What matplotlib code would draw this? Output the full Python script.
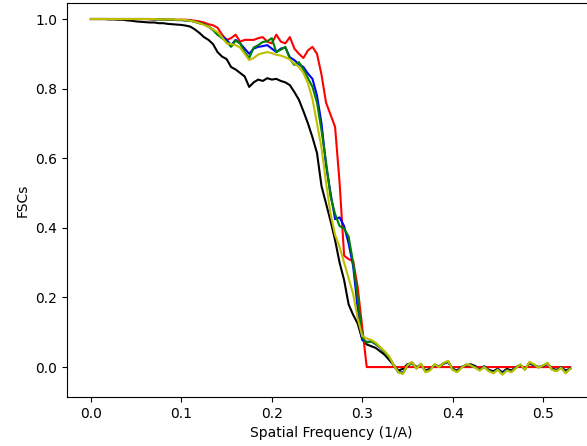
import numpy as np
import matplotlib
matplotlib.use('Agg')
import matplotlib.pyplot as plt

# spatial frequency grid (1/A), 0.005 steps from 0 to 0.53
freq = np.round(np.arange(107) * 0.005, 3)

fsc_black = [
    1.000, 1.000, 1.000, 1.000, 0.999, 0.999, 0.998, 0.998, 0.996, 0.995,
    0.993, 0.992, 0.991, 0.990, 0.990, 0.988, 0.988, 0.986, 0.985, 0.984,
    0.983, 0.981, 0.978, 0.970, 0.960, 0.948, 0.940, 0.928, 0.905, 0.892,
    0.885, 0.862, 0.855, 0.845, 0.835, 0.805, 0.818, 0.826, 0.822, 0.830,
    0.826, 0.828, 0.822, 0.818, 0.810, 0.790, 0.768, 0.735, 0.700, 0.660,
    0.615, 0.520, 0.470, 0.420, 0.365, 0.300, 0.250, 0.180, 0.150, 0.125,
    0.080, 0.065, 0.060, 0.055, 0.045, 0.035, 0.020, 0.005, -0.010, -0.005,
    0.008, 0.012, 0.000, 0.005, -0.010, -0.005, 0.005, 0.002, 0.010, 0.015,
    -0.005, -0.010, 0.000, 0.005, 0.008, 0.003, -0.005, 0.002, -0.008, -0.012,
    -0.005, -0.015, -0.005, -0.010, 0.000, 0.005, -0.005, 0.010, 0.005, 0.000,
    0.002, 0.010, -0.005, -0.008, 0.000, -0.010, -0.005,
]

fsc_red = [
    1.000, 1.000, 1.000, 1.000, 1.000, 1.000, 1.000, 1.000, 1.000, 1.000,
    1.000, 1.000, 1.000, 0.999, 0.999, 0.999, 0.998, 0.998, 0.998, 0.998,
    0.998, 0.998, 0.997, 0.995, 0.993, 0.990, 0.985, 0.982, 0.975, 0.955,
    0.940, 0.945, 0.955, 0.935, 0.940, 0.940, 0.940, 0.945, 0.948, 0.935,
    0.930, 0.955, 0.935, 0.930, 0.948, 0.915, 0.900, 0.888, 0.910, 0.920,
    0.900, 0.840, 0.760, 0.725, 0.690, 0.530, 0.320, 0.310, 0.305, 0.230,
    0.115, 0.000, 0.000, 0.000, 0.000, 0.000, 0.000, 0.000, 0.000, 0.000,
    0.000, 0.000, 0.000, 0.000, 0.000, 0.000, 0.000, 0.000, 0.000, 0.000,
    0.000, 0.000, 0.000, 0.000, 0.000, 0.000, 0.000, 0.000, 0.000, 0.000,
    0.000, 0.000, 0.000, 0.000, 0.000, 0.000, 0.000, 0.000, 0.000, 0.000,
    0.000, 0.000, 0.000, 0.000, 0.000, 0.000, 0.000,
]

fsc_blue = [
    1.000, 1.000, 1.000, 1.000, 1.000, 1.000, 1.000, 1.000, 1.000, 1.000,
    1.000, 1.000, 1.000, 1.000, 0.999, 0.999, 0.999, 0.998, 0.998, 0.997,
    0.997, 0.996, 0.995, 0.992, 0.988, 0.985, 0.978, 0.970, 0.955, 0.950,
    0.940, 0.925, 0.940, 0.930, 0.915, 0.900, 0.915, 0.920, 0.922, 0.925,
    0.915, 0.905, 0.915, 0.918, 0.890, 0.882, 0.870, 0.862, 0.843, 0.828,
    0.780, 0.700, 0.580, 0.500, 0.425, 0.430, 0.405, 0.355, 0.290, 0.170,
    0.078, 0.072, 0.074, 0.066, 0.056, 0.042, 0.027, 0.005, -0.014, -0.016,
    0.003, 0.012, -0.003, 0.008, -0.012, -0.007, 0.006, 0.002, 0.010, 0.015,
    -0.006, -0.012, 0.000, 0.006, 0.004, 0.000, -0.008, 0.002, -0.010, -0.015,
    -0.006, -0.018, -0.008, -0.012, -0.001, 0.006, -0.006, 0.012, 0.006, 0.000,
    0.003, 0.010, -0.006, -0.010, 0.000, -0.015, -0.003,
]

fsc_green = [
    1.000, 1.000, 1.000, 1.000, 1.000, 1.000, 1.000, 1.000, 1.000, 1.000,
    1.000, 1.000, 1.000, 1.000, 0.999, 0.999, 0.999, 0.998, 0.998, 0.997,
    0.997, 0.996, 0.995, 0.992, 0.988, 0.985, 0.978, 0.968, 0.955, 0.945,
    0.935, 0.920, 0.938, 0.930, 0.905, 0.888, 0.918, 0.925, 0.934, 0.936,
    0.945, 0.905, 0.912, 0.920, 0.885, 0.868, 0.876, 0.855, 0.830, 0.805,
    0.760, 0.680, 0.590, 0.490, 0.440, 0.405, 0.398, 0.375, 0.300, 0.200,
    0.085, 0.070, 0.074, 0.066, 0.056, 0.042, 0.027, 0.005, -0.015, -0.018,
    0.004, 0.013, -0.004, 0.009, -0.013, -0.008, 0.007, 0.001, 0.011, 0.016,
    -0.007, -0.013, -0.001, 0.007, 0.004, -0.001, -0.009, 0.001, -0.011, -0.016,
    -0.007, -0.020, -0.009, -0.013, -0.002, 0.007, -0.007, 0.013, 0.007, -0.001,
    0.004, 0.011, -0.007, -0.011, -0.001, -0.016, -0.004,
]

fsc_yellow = [
    1.000, 1.000, 1.000, 1.000, 1.000, 1.000, 1.000, 1.000, 1.000, 1.000,
    1.000, 1.000, 1.000, 1.000, 1.000, 0.999, 0.999, 0.999, 0.999, 0.998,
    0.998, 0.997, 0.995, 0.992, 0.988, 0.983, 0.978, 0.970, 0.962, 0.948,
    0.930, 0.928, 0.925, 0.918, 0.900, 0.882, 0.888, 0.898, 0.902, 0.905,
    0.902, 0.897, 0.895, 0.890, 0.884, 0.872, 0.862, 0.845, 0.815, 0.770,
    0.700, 0.630, 0.530, 0.440, 0.380, 0.345, 0.300, 0.255, 0.210, 0.140,
    0.090, 0.082, 0.078, 0.070, 0.057, 0.045, 0.030, 0.005, -0.015, -0.020,
    0.005, 0.015, -0.005, 0.010, -0.015, -0.010, 0.008, 0.000, 0.012, 0.018,
    -0.008, -0.015, -0.002, 0.008, 0.005, -0.002, -0.010, 0.000, -0.012, -0.018,
    -0.008, -0.022, -0.010, -0.015, -0.003, 0.008, -0.008, 0.015, 0.008, -0.002,
    0.005, 0.012, -0.008, -0.012, -0.002, -0.018, -0.005,
]

fig = plt.figure(figsize=(5.87, 4.46), dpi=100)
ax = fig.add_axes([67 / 587, 49 / 446, 528 / 587, 394 / 446])

ax.plot(freq, fsc_black, color='k', lw=1.5)
ax.plot(freq, fsc_red, color='r', lw=1.5)
ax.plot(freq, fsc_blue, color='b', lw=1.5)
ax.plot(freq, fsc_green, color='g', lw=1.5)
ax.plot(freq, fsc_yellow, color='y', lw=1.5)

ax.set_xlim(-0.0265, 0.5575)
ax.set_ylim(-0.086, 1.046)
ax.set_xlabel('Spatial Frequency (1/A)')
ax.set_ylabel('FSCs')

fig.savefig('out.png', dpi=100)
